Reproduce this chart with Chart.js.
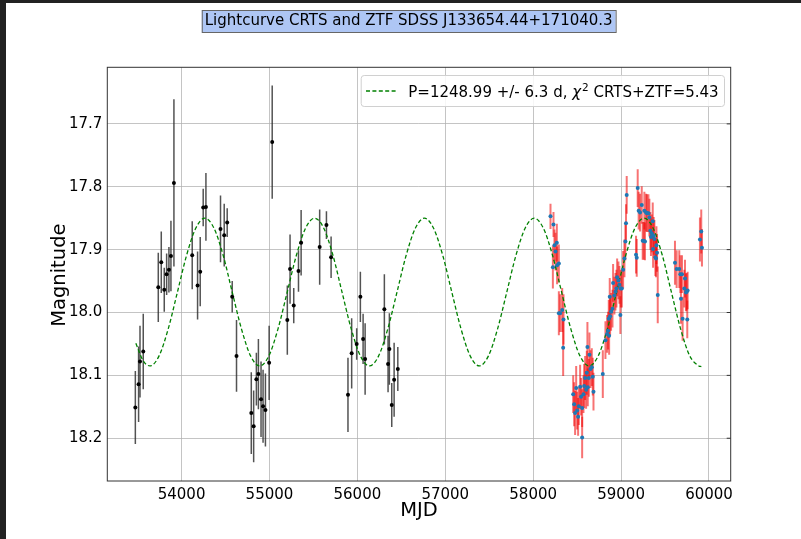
<!DOCTYPE html>
<html>
<head>
<meta charset="utf-8">
<script src="https://cdn.jsdelivr.net/npm/chart.js@4/dist/chart.umd.min.js"></script>
<style>
  html, body { margin: 0; padding: 0; background: #222222; width: 801px; height: 539px; overflow: hidden; }
  #wrap { position: absolute; left: 6px; top: 3px; width: 795px; height: 536px; background: #ffffff; }
  canvas { display: block; }
</style>
</head>
<body>
<div id="wrap"><canvas id="c" width="795" height="536"></canvas></div>
<script>
// ---- Data ----
const titleText = "Lightcurve CRTS and ZTF SDSS J133654.44+171040.3";
const xTicks = [54000, 55000, 56000, 57000, 58000, 59000, 60000];
const yTicks = [17.7, 17.8, 17.9, 18.0, 18.1, 18.2];

const crtsMjd = [53474,53511,53527,53564,53735,53769,53803,53830,53856,53879,53913,54121,54182,54212,54246,54277,54443,54485,54519,54576,54625,
  54793,54820,54851,54874,54904,54927,54954,54996,55031,55203,55234,55276,55330,55360,55571,55648,55701,55893,55935,55992,56034,56065,56088,
  56307,56349,56364,56391,56418,56460];
const crtsMag = [18.151,18.114,18.078,18.062,17.960,17.920,17.964,17.939,17.932,17.910,17.794,17.909,17.957,17.935,17.833,17.832,17.867,17.877,17.857,17.975,18.069,
  18.160,18.181,18.106,18.098,18.138,18.149,18.155,18.080,17.729,18.012,17.931,17.989,17.934,17.889,17.896,17.861,17.912,18.131,18.065,18.050,17.975,18.042,18.074,
  17.995,18.082,18.058,18.147,18.107,18.090];
const crtsErr = [0.058,0.060,0.057,0.060,0.055,0.049,0.035,0.033,0.036,0.056,0.133,0.054,0.054,0.055,0.030,0.054,0.053,0.050,0.023,0.025,0.057,
  0.065,0.057,0.042,0.056,0.060,0.058,0.058,0.059,0.090,0.055,0.055,0.028,0.033,0.052,0.060,0.022,0.033,0.059,0.056,0.025,0.040,0.040,0.057,
  0.056,0.045,0.057,0.035,0.059,0.035];

const ztfMjd = [58197,58224,58231,58242,58254,58269,58272,58292,58292,58307,58330,58345,58341,
  58455,58466,58477,58489,58500,58511,58519,58534,58545,58557,58557,58572,58580,58591,58602,58610,58621,58617,58633,58640,58652,58667,58678,58686,58792,
  58822,58841,58852,58860,58864,58871,58875,58886,58902,58909,58924,58936,58947,58955,58970,58981,58992,58996,59008,59023,59038,59049,59056,59064,
  59170,59178,59189,59200,59216,59235,59246,59258,59265,59272,59284,59295,59311,59322,59333,59340,59349,59360,59364,59371,59379,59390,59397,59402,59409,59417,
  59613,59632,59662,59674,59681,59693,59700,59719,59727,59738,59746,59753,59757,59897,59912,59920];
const ztfMag = [17.847,17.928,17.860,17.893,17.903,17.889,17.925,17.922,18.001,18.001,17.996,18.011,18.056,
  18.130,18.146,18.160,18.120,18.156,18.166,18.149,18.118,18.134,18.152,18.199,18.130,18.117,18.104,18.123,18.096,18.119,18.055,18.104,18.067,18.090,18.087,18.102,18.126,18.098,
  18.044,18.034,18.029,18.010,18.037,17.975,18.006,17.999,17.994,17.953,17.973,17.967,17.962,17.944,17.949,17.956,18.004,17.962,17.962,17.932,17.914,17.887,17.858,17.813,
  17.908,17.913,17.802,17.838,17.841,17.829,17.886,17.886,17.838,17.887,17.841,17.842,17.842,17.849,17.870,17.880,17.874,17.855,17.899,17.878,17.883,17.912,17.914,17.893,17.905,17.972,
  17.921,17.931,17.931,17.939,17.978,17.939,18.010,17.962,17.946,17.968,17.967,18.011,17.965,17.884,17.871,17.897];
const ztfErr = [0.020,0.034,0.020,0.025,0.030,0.030,0.030,0.030,0.035,0.030,0.035,0.040,0.045,
  0.030,0.035,0.035,0.035,0.030,0.030,0.030,0.035,0.030,0.030,0.033,0.030,0.035,0.035,0.030,0.035,0.030,0.040,0.030,0.035,0.030,0.030,0.030,0.030,0.038,
  0.030,0.030,0.030,0.030,0.030,0.030,0.030,0.030,0.030,0.030,0.030,0.030,0.030,0.030,0.030,0.030,0.030,0.030,0.030,0.030,0.030,0.030,0.030,0.030,
  0.030,0.030,0.030,0.030,0.030,0.030,0.030,0.030,0.030,0.030,0.030,0.030,0.030,0.030,0.030,0.030,0.030,0.030,0.030,0.030,0.030,0.030,0.030,0.030,0.030,0.045,
  0.035,0.030,0.030,0.030,0.040,0.030,0.035,0.030,0.030,0.030,0.030,0.030,0.030,0.035,0.035,0.030];

// model curve
const modelMjd = [53480,53560,53640,53744,53848,53952,54057,54161,54265,54369,54473,54577,54681,54785,54889,
  54993,55097,55201,55306,55410,55514,55618,55722,55826,55930,56034,56138,
  56242,56346,56450,56555,56659,56763,56867,56971,57075,57179,57283,57387,
  57491,57595,57699,57804,57908,58012,58116,58220,58324,58428,58532,58636,
  58740,58844,58948,59053,59157,59261,59365,59469,59573,59677,59781,59885,59913];
const modelMag = [18.049,18.076,18.085,18.069,18.026,17.968,17.909,17.866,17.850,17.866,17.909,17.968,18.026,18.069,18.085,
  18.069,18.026,17.968,17.909,17.866,17.850,17.866,17.909,17.968,18.026,18.069,18.085,
  18.069,18.026,17.968,17.909,17.866,17.850,17.866,17.909,17.968,18.026,18.069,18.085,
  18.069,18.026,17.968,17.909,17.866,17.850,17.866,17.909,17.968,18.026,18.069,18.085,
  18.069,18.026,17.968,17.909,17.866,17.850,17.866,17.909,17.968,18.026,18.069,18.085,18.086];

const legendMain = "P=1248.99 +/- 6.3 d, ";
const legendChi = "\u03C7";
const legendSup = "2";
const legendRest = " CRTS+ZTF=5.43";
const xLabel = "MJD";
const yLabel = "Magnitude";

const FONT = "'DejaVu Sans', sans-serif";

function pts(xs, ys) { return xs.map((x, i) => ({ x: x, y: ys[i] })); }

const errorBars = {
  id: 'errorBars',
  beforeDatasetsDraw(chart) {
    const ctx = chart.ctx, xs = chart.scales.x, ys = chart.scales.y;
    const a = chart.chartArea;
    ctx.save();
    ctx.beginPath(); ctx.rect(a.left, a.top, a.right - a.left, a.bottom - a.top); ctx.clip();
    chart.data.datasets.forEach(ds => {
      if (!ds.errs) return;
      ctx.strokeStyle = ds.errColor; ctx.lineWidth = ds.errWidth;
      ds.data.forEach((p, i) => {
        const px = xs.getPixelForValue(p.x);
        ctx.beginPath();
        ctx.moveTo(px, ys.getPixelForValue(p.y - ds.errs[i]));
        ctx.lineTo(px, ys.getPixelForValue(p.y + ds.errs[i]));
        ctx.stroke();
      });
    });
    ctx.restore();
  }
};

const decor = {
  id: 'decor',
  afterDraw(chart) {
    const ctx = chart.ctx, a = chart.chartArea, ys = chart.scales.y;
    ctx.save();
    // frame
    ctx.strokeStyle = '#333'; ctx.lineWidth = 1;
    ctx.strokeRect(a.left, a.top, a.right - a.left, a.bottom - a.top);
    // inward ticks on the right side
    yTicks.forEach(v => {
      const py = ys.getPixelForValue(v);
      ctx.beginPath(); ctx.moveTo(a.right, py); ctx.lineTo(a.right - 4, py); ctx.stroke();
    });
    // title box
    ctx.font = '15px ' + FONT;
    ctx.textBaseline = 'middle'; ctx.textAlign = 'center';
    const tw = ctx.measureText(titleText).width;
    const tcx = 402.7, tcy = 18.3;
    ctx.fillStyle = '#aec6f4';
    ctx.fillRect(tcx - tw / 2 - 3, 7, tw + 6, 22.7);
    ctx.strokeStyle = '#666'; ctx.lineWidth = 1;
    ctx.strokeRect(tcx - tw / 2 - 3 + 0.5, 7.5, tw + 6, 22);
    ctx.fillStyle = '#000';
    ctx.fillText(titleText, tcx, tcy);

    // legend
    const lx = 354.7, ly = 72, lw = 363.3, lh = 31;
    ctx.fillStyle = 'rgba(255,255,255,0.85)';
    ctx.strokeStyle = '#d0d0d0'; ctx.lineWidth = 1;
    ctx.beginPath();
    if (ctx.roundRect) ctx.roundRect(lx + 0.5, ly + 0.5, lw, lh, 3); else ctx.rect(lx + 0.5, ly + 0.5, lw, lh);
    ctx.fill(); ctx.stroke();
    ctx.strokeStyle = '#008000'; ctx.lineWidth = 1.3; ctx.setLineDash([4, 2.4]);
    ctx.beginPath(); ctx.moveTo(360, 88); ctx.lineTo(391, 88); ctx.stroke();
    ctx.setLineDash([]);
    ctx.fillStyle = '#000'; ctx.textAlign = 'left'; ctx.textBaseline = 'alphabetic';
    let x = 402.3; const base = 93.5;
    ctx.font = '15px ' + FONT;
    ctx.fillText(legendMain, x, base); x += ctx.measureText(legendMain).width;
    ctx.font = 'italic 15px ' + FONT;
    ctx.fillText(legendChi, x, base); x += ctx.measureText(legendChi).width + 1;
    ctx.font = '10.5px ' + FONT;
    ctx.fillText(legendSup, x, base - 6); x += ctx.measureText(legendSup).width;
    ctx.font = '15px ' + FONT;
    ctx.fillText(legendRest, x, base);

    // axis titles
    ctx.font = '19.5px ' + FONT; ctx.textAlign = 'center'; ctx.textBaseline = 'middle';
    ctx.fillText(xLabel, (a.left + a.right) / 2, 507.5);
    ctx.translate(53.5, (a.top + a.bottom) / 2 + 1); ctx.rotate(-Math.PI / 2);
    ctx.fillText(yLabel, 0, 0);
    ctx.restore();
  }
};

new Chart(document.getElementById('c'), {
  type: 'scatter',
  data: {
    datasets: [
      { label: 'ZTF', data: pts(ztfMjd, ztfMag), errs: ztfErr, errColor: 'rgba(240,0,0,0.55)', errWidth: 2,
        backgroundColor: '#1f77b4', borderColor: '#1f77b4', pointRadius: 2, pointBorderWidth: 0, order: 1 },
      { label: 'CRTS', data: pts(crtsMjd, crtsMag), errs: crtsErr, errColor: 'rgba(40,40,40,0.8)', errWidth: 1.5,
        backgroundColor: '#000', borderColor: '#000', pointRadius: 2, pointBorderWidth: 0, order: 2 },
      { label: 'model', type: 'line', data: pts(modelMjd, modelMag), borderColor: '#008000', borderWidth: 1.3,
        borderDash: [4, 2.4], pointRadius: 0, fill: false, cubicInterpolationMode: 'monotone', order: 3 }
    ]
  },
  options: {
    responsive: false, animation: false, devicePixelRatio: 1,
    layout: { padding: { left: 0, top: 64.3, right: 70.3, bottom: 0 } },
    plugins: { legend: { display: false }, title: { display: false }, tooltip: { enabled: false } },
    scales: {
      x: {
        type: 'linear', min: 53155, max: 60247,
        afterBuildTicks: s => { s.ticks = xTicks.map(v => ({ value: v })); },
        afterFit: s => { s.height = 58; },
        grid: { color: 'rgba(176,176,176,0.75)', lineWidth: 1, drawTicks: false },
        border: { display: false },
        ticks: { color: '#000', font: { family: FONT, size: 15 }, padding: 5, maxRotation: 0, callback: v => String(v) }
      },
      y: {
        type: 'linear', min: 17.61, max: 18.268, reverse: true,
        afterBuildTicks: s => { s.ticks = yTicks.map(v => ({ value: v })); },
        afterFit: s => { s.width = 101.3; },
        grid: { color: 'rgba(176,176,176,0.75)', lineWidth: 1, drawTicks: false },
        border: { display: false },
        ticks: { color: '#000', font: { family: FONT, size: 15 }, padding: 5, callback: v => v.toFixed(1) }
      }
    }
  },
  plugins: [errorBars, decor]
});
</script>
</body>
</html>
